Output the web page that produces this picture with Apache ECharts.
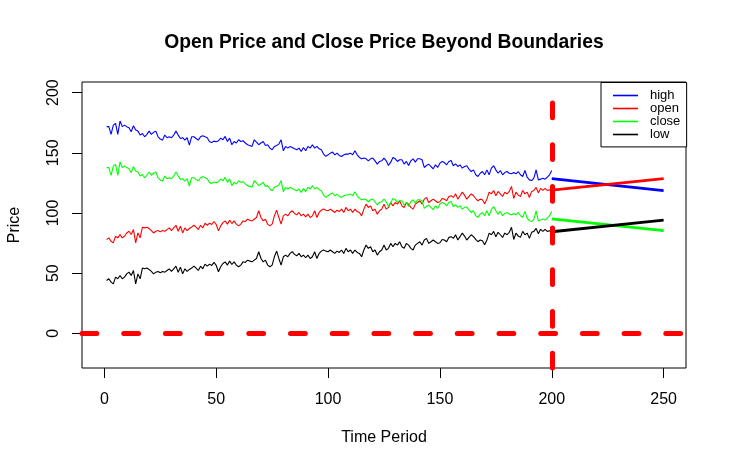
<!DOCTYPE html>
<html>
<head>
<meta charset="utf-8">
<script src="https://cdn.jsdelivr.net/npm/echarts@6/dist/echarts.min.js"></script>
<style>
html,body{margin:0;padding:0;background:#fff;}
#chart{width:729px;height:470px;}
</style>
</head>
<body>
<div id="chart"></div>
<script>
// ---- data (time periods 1..200) ----
const high = [
171.7,171.7,165.3,173,174.4,165.3,176.4,171.7,173,171.7,170.8,167.5,172.5,168.9,168,164.7,166,163.3,165.3,168,165.3,167,168,163.3,161.4,160.5,164.7,162.5,163.3,162.5,164.7,168,164.7,161.9,162.5,160.5,162.5,156.4,163.3,163.3,161.9,160.5,163.3,164.2,163.3,162.5,159.2,158.6,159.7,159.2,
160,162.2,160.8,163.6,159.4,162.2,156.7,159.4,158.1,160.8,159.4,160,158.1,156.7,156.1,155.3,160.8,158.9,156.7,158.1,159.4,156.1,156.7,153.9,152.5,155.3,156.1,157.2,160.8,151.7,155.3,153.9,155.3,154.4,153.3,152.5,153.9,151.1,154.4,151.7,155.3,153.9,156.7,153.9,155.3,153.3,152.5,148.9,147,148.3,
149.7,150.6,148.3,149.7,147.8,146.9,148.3,148.9,148.9,149.7,148.3,151.7,148.3,146.1,145,145.6,145,143.3,145,145.6,143.3,140.6,142.8,143.3,145.6,143.3,139.4,142.2,146.1,145,142.8,144.2,144.2,140.6,142.8,139.4,143.3,145,142.2,145,145,144.2,137.8,139.4,140.6,138.6,136.7,140,137.8,141.4,
142.8,141.9,140,142.8,143.6,139.2,140.8,138.6,140,137.2,138.6,139.2,136.4,134.4,135.8,131.7,130.3,133,134.4,131.7,135.8,131.7,137.2,139.2,135.8,133,135.3,131.7,133.6,134.4,133,132.5,133.6,132.5,134.4,131.7,130.3,135.3,129.7,127.5,126.9,128.9,135.8,127.5,128.1,128.9,128.1,129.7,131.7,135.3
];
const close = [
137.7,137.7,131.3,139,140.4,131.3,142.4,137.7,139,137.7,136.8,133.5,138.5,134.9,134,130.7,132,129.3,131.3,134,131.3,133,134,129.3,127.4,126.5,130.7,128.5,129.3,128.5,130.7,134,130.7,127.9,128.5,126.5,128.5,122.4,129.3,129.3,127.9,126.5,129.3,130.2,129.3,128.5,125.2,124.6,125.7,125.2,
126,128.2,126.8,129.6,125.4,128.2,122.7,125.4,124.1,126.8,125.4,126,124.1,122.7,122.1,121.3,126.8,124.9,122.7,124.1,125.4,122.1,122.7,119.9,118.5,121.3,122.1,123.2,126.8,117.7,121.3,119.9,121.3,120.4,119.3,118.5,119.9,117.1,120.4,117.7,121.3,119.9,122.7,119.9,121.3,119.3,118.5,114.9,113,114.3,
115.7,116.6,114.3,115.7,113.8,112.9,114.3,114.9,114.9,115.7,114.3,117.7,114.3,112.1,111,111.6,111,109.3,111,111.6,109.3,106.6,108.8,109.3,111.6,109.3,105.4,108.2,112.1,111,108.8,110.2,110.2,106.6,108.8,105.4,109.3,111,108.2,111,111,110.2,103.8,105.4,106.6,104.6,102.7,106,103.8,107.4,
108.8,107.9,106,108.8,109.6,105.2,106.8,104.6,106,103.2,104.6,105.2,102.4,100.4,101.8,97.7,96.3,99,100.4,97.7,101.8,97.7,103.2,105.2,101.8,99,101.3,97.7,99.6,100.4,99,98.5,99.6,98.5,100.4,97.7,96.3,101.3,95.7,93.5,92.9,94.9,101.8,93.5,94.1,94.9,94.1,95.7,97.7,101.3
];
const open = [
77.9,79.3,76.5,75.1,80.7,79.3,82.1,79.3,80.7,83.4,84.8,82.1,86.2,75.1,83.4,79.3,88.2,87.6,88.2,87.1,85.4,83.4,84.8,85.4,84.3,85.4,84.8,86.2,87.6,85.4,87.6,89.8,84.8,89,83.4,87.6,85.4,87.1,88.2,89.8,88.2,86.2,89.8,87.6,91.5,89.8,91.5,90.4,92.9,90.4,
85.1,89.3,92,93.4,90.7,94,91.2,93.4,90.7,89.3,90.7,93.4,92.9,94.8,94,93.4,94.8,96.2,101.8,96.2,93.4,94.8,90.7,89.3,90.7,97.6,102.3,96.2,90.7,97.6,99,97.6,100.4,101.8,99.6,98.4,100.4,97.6,99,96.8,99,96.2,97.6,101.8,96.2,100.4,102.3,103.2,102.3,101.8,
103.2,101.8,100.4,102.3,101.2,103.2,100.4,104.6,101.8,103.2,100.4,103.2,101.2,100.4,97.6,103.2,107.3,104.6,105.9,101.8,103.2,99,101.8,103.2,107.3,103.2,104.6,108.7,105.9,108.7,107.3,110.1,105.9,104.6,108.7,107.3,104.6,103.2,107.3,108.7,110.1,107.3,111.5,112.9,108.7,110.1,111.5,110.1,108.7,109.3,
112,111.5,110.1,113.7,114.3,112.9,115.9,111.5,114.3,117.3,114.8,111.5,113.7,115.9,114.3,112,110.1,111.5,110.9,107.6,111.5,117.3,115.9,118.7,114.3,117.9,115.9,113.7,117.3,115.9,117.9,122.1,112,117.3,114.8,113.7,118.7,115.9,117.3,112.9,117.9,118.7,121.2,116.8,120.4,118.7,120.4,118.7,119.3,118.7
];
const low = [
43.9,45.3,42.5,41.1,46.7,45.3,48.1,45.3,46.7,49.4,50.8,48.1,52.2,41.1,49.4,45.3,54.2,53.6,54.2,53.1,51.4,49.4,50.8,51.4,50.3,51.4,50.8,52.2,53.6,51.4,53.6,55.8,50.8,55,49.4,53.6,51.4,53.1,54.2,55.8,54.2,52.2,55.8,53.6,57.5,55.8,57.5,56.4,58.9,56.4,
51.1,55.3,58,59.4,56.7,60,57.2,59.4,56.7,55.3,56.7,59.4,58.9,60.8,60,59.4,60.8,62.2,67.8,62.2,59.4,60.8,56.7,55.3,56.7,63.6,68.3,62.2,56.7,63.6,65,63.6,66.4,67.8,65.6,64.4,66.4,63.6,65,62.8,65,62.2,63.6,67.8,62.2,66.4,68.3,69.2,68.3,67.8,
69.2,67.8,66.4,68.3,67.2,69.2,66.4,70.6,67.8,69.2,66.4,69.2,67.2,66.4,63.6,69.2,73.3,70.6,71.9,67.8,69.2,65,67.8,69.2,73.3,69.2,70.6,74.7,71.9,74.7,73.3,76.1,71.9,70.6,74.7,73.3,70.6,69.2,73.3,74.7,76.1,73.3,77.5,78.9,74.7,76.1,77.5,76.1,74.7,75.3,
78,77.5,76.1,79.7,80.3,78.9,81.9,77.5,80.3,83.3,80.8,77.5,79.7,81.9,80.3,78,76.1,77.5,76.9,73.6,77.5,83.3,81.9,84.7,80.3,83.9,81.9,79.7,83.3,81.9,83.9,88.1,78,83.3,80.8,79.7,84.7,81.9,83.3,78.9,83.9,84.7,87.2,82.8,86.4,84.7,86.4,84.7,85.3,84.7
];
// projection beyond the boundary (period 200 -> 250)
const extTime = [200, 250];
const highExt = [128.6, 118.6];
const openExt = [119.0, 128.5];
const closeExt = [95.0, 85.3];
const lowExt = [84.4, 94.0];
// boundaries
const boundaryPrice = 0;
const boundaryTime = 200;
// tick labels
const xTicks = [0, 50, 100, 150, 200, 250];
const yTicks = [0, 50, 100, 150, 200];
const seriesNames = ['high', 'open', 'close', 'low'];
const seriesColors = ['#0000FF', '#FF0000', '#00FF00', '#000000'];

const mainData = [high, open, close, low];
const extData = [highExt, openExt, closeExt, lowExt];
const FONT = 'Liberation Sans, Arial, Helvetica, sans-serif';

const series = [];
mainData.forEach((arr, k) => {
  series.push({
    name: seriesNames[k],
    type: 'line',
    data: arr.map((v, i) => [i + 1, v]),
    symbol: 'none',
    lineStyle: {color: seriesColors[k], width: 1.1},
    itemStyle: {color: seriesColors[k]},
    animation: false,
    silent: true,
    z: 2
  });
});
extData.forEach((arr, k) => {
  series.push({
    name: seriesNames[k] + ' projection',
    type: 'line',
    data: arr.map((v, i) => [extTime[i], v]),
    symbol: 'none',
    lineStyle: {color: seriesColors[k], width: 2.8},
    animation: false,
    silent: true,
    z: 2
  });
});
series.push({
  name: 'boundary',
  type: 'line',
  data: [],
  symbol: 'none',
  animation: false,
  silent: true,
  z: 5,
  markLine: {
    symbol: 'none',
    silent: true,
    animation: false,
    label: {show: false},
    lineStyle: {color: '#FF0000', width: 5, type: [14.8, 26.9], cap: 'round'},
    emphasis: {disabled: true},
    data: [{yAxis: boundaryPrice}, {xAxis: boundaryTime}]
  }
});

const chart = echarts.init(document.getElementById('chart'), null, {renderer: 'canvas'});
chart.setOption({
  backgroundColor: '#ffffff',
  animation: false,
  title: {
    text: 'Open Price and Close Price Beyond Boundaries',
    left: 384,
    top: 42.5,
    padding: 0,
    textAlign: 'center',
    textVerticalAlign: 'middle',
    textStyle: {fontFamily: FONT, fontSize: 19.3, fontWeight: 'bold', color: '#000'}
  },
  legend: {
    data: seriesNames.map(n => ({name: n, icon: 'rect'})),
    orient: 'vertical',
    left: 601,
    top: 82.5,
    padding: [6.5, 6.3, 5.9, 12],
    itemWidth: 25,
    itemHeight: 1.6,
    itemGap: 0,
    borderColor: '#000',
    borderWidth: 1,
    borderRadius: 0,
    backgroundColor: '#fff',
    selectedMode: false,
    textStyle: {fontFamily: FONT, fontSize: 13, lineHeight: 12.4, color: '#000', padding: [0, 0, 0, 7]},
    z: 10
  },
  grid: {
    left: 82, right: 43, top: 82, bottom: 102,
    show: true, borderColor: '#000', borderWidth: 1, backgroundColor: 'transparent',
    containLabel: false,
    outerBoundsMode: 'none'
  },
  xAxis: {
    type: 'value',
    min: -10, max: 260,
    name: 'Time Period',
    nameLocation: 'middle',
    nameGap: 62,
    nameTextStyle: {fontFamily: FONT, fontSize: 16, color: '#000'},
    axisLine: {show: false, onZero: false},
    axisTick: {show: true, length: 10, inside: false, customValues: xTicks, lineStyle: {color: '#000', width: 1}},
    axisLabel: {customValues: xTicks, fontFamily: FONT, fontSize: 16, color: '#000', margin: 24},
    splitLine: {show: false}
  },
  yAxis: {
    type: 'value',
    min: -28.8, max: 208.8,
    name: 'Price',
    nameLocation: 'middle',
    nameGap: 59,
    nameRotate: 90,
    nameTextStyle: {fontFamily: FONT, fontSize: 16, color: '#000'},
    axisLine: {show: false, onZero: false},
    axisTick: {show: true, length: 10, inside: false, customValues: yTicks, lineStyle: {color: '#000', width: 1}},
    axisLabel: {customValues: yTicks, rotate: 90, fontFamily: FONT, fontSize: 16, color: '#000', margin: 20},
    splitLine: {show: false}
  },
  series: series
});
</script>
</body>
</html>
